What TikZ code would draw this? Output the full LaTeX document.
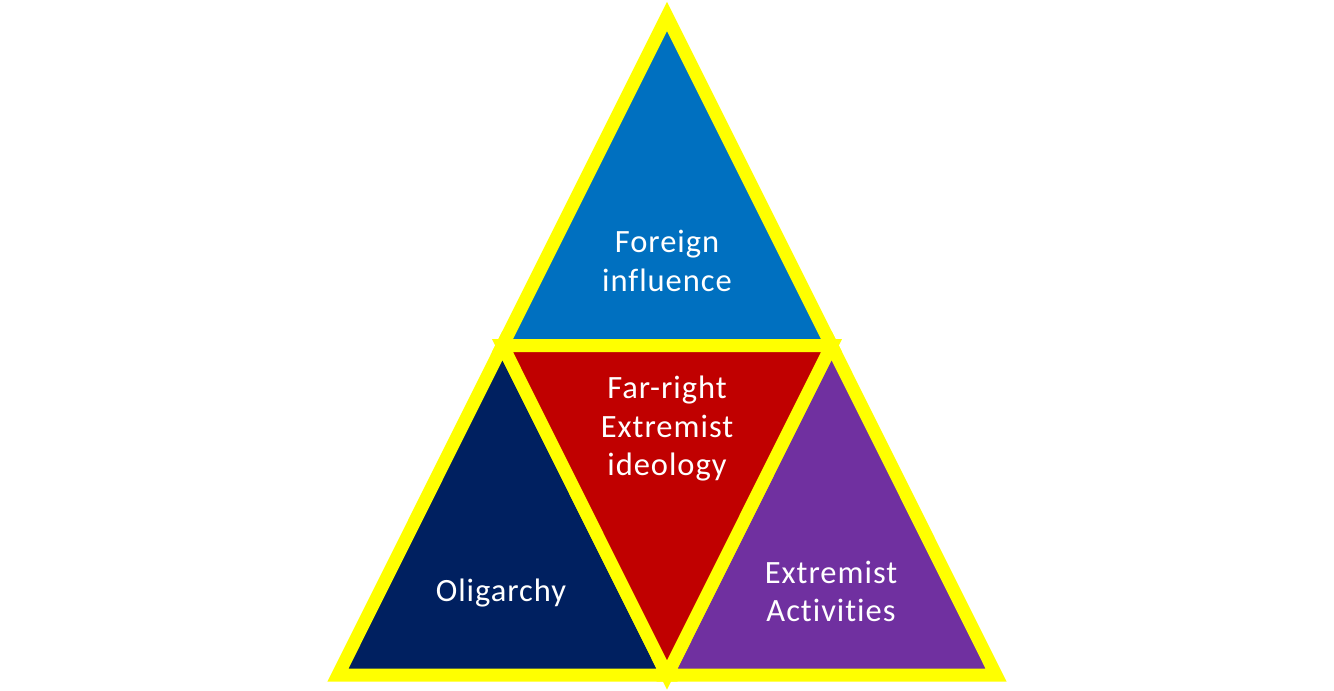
\documentclass[tikz,border=0pt]{standalone}
\usepackage{fontspec}
\setmainfont{Carlito}[Ligatures=NoCommon,LetterSpace=3]
\definecolor{tblue}{HTML}{0070C0}
\definecolor{tred}{HTML}{C00000}
\definecolor{tnavy}{HTML}{002060}
\definecolor{tpurple}{HTML}{7030A0}
\definecolor{tyellow}{HTML}{FFFF00}
\begin{document}
\begin{tikzpicture}[x=1pt,y=-1pt,
  tri/.style={draw=tyellow,line width=13pt,line join=miter},
  lbl/.style={text=white,font=\fontsize{32.5}{38.5}\selectfont,align=center,inner sep=0pt}]
\useasboundingbox (0,0) rectangle (1334,691);
\coordinate (A) at (667,16.5);
\coordinate (L) at (502.5,345.5);
\coordinate (R) at (831.5,345.5);
\coordinate (BL) at (338,675);
\coordinate (BM) at (667,675);
\coordinate (BR) at (996,675);
\filldraw[tri,fill=tblue] (A) -- (L) -- (R) -- cycle;
\filldraw[tri,fill=tnavy] (L) -- (BL) -- (BM) -- cycle;
\filldraw[tri,fill=tpurple] (R) -- (BM) -- (BR) -- cycle;
\filldraw[tri,fill=tred] (L) -- (R) -- (BM) -- cycle;
\node[lbl] (fi) at (667,261) {Foreign\\influence};
\node[lbl] (fr) at (667,429) {Far-right\\Extremist\\ideology};
\node[lbl] (ol) at (501,593) {Oligarchy};
\node[lbl] (ea) at (831,591.5) {Extremist\\Activities};
\end{tikzpicture}
\end{document}
